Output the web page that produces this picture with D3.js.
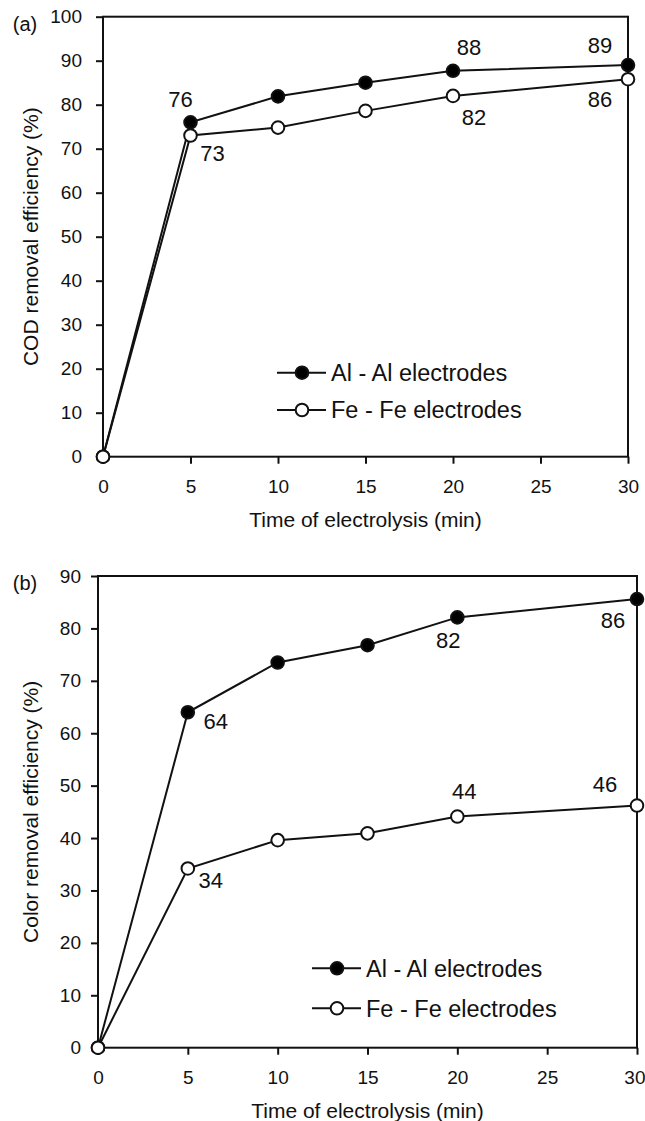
<!DOCTYPE html>
<html>
<head>
<meta charset="utf-8">
<script src="https://cdn.jsdelivr.net/npm/d3@7"></script>
<style>
  body { margin: 0; background: #fff; }
  svg { display: block; font-family: "Liberation Sans", Arial, sans-serif; }
</style>
</head>
<body>
<div id="chart"></div>
<script>
// data
const times = [0, 5, 10, 15, 20, 30];
const xTicks = [0, 5, 10, 15, 20, 25, 30];

const codAl = [0, 76.0, 81.9, 85.0, 87.7, 89.0];
const codFe = [0, 73.0, 74.8, 78.6, 82.0, 85.8];
const codTicks = [0, 10, 20, 30, 40, 50, 60, 70, 80, 90, 100];

const colorAl = [0, 64.0, 73.5, 76.8, 82.1, 85.6];
const colorFe = [0, 34.2, 39.6, 40.9, 44.1, 46.2];
const colorTicks = [0, 10, 20, 30, 40, 50, 60, 70, 80, 90];

const legendNames = ["Al - Al electrodes", "Fe - Fe electrodes"];

// which points carry a value label: [series, point index]
const codLabelled = [[0, 1], [1, 1], [0, 4], [1, 4], [0, 5], [1, 5]];
const colorLabelled = [[0, 1], [0, 4], [0, 5], [1, 1], [1, 4], [1, 5]];

// label placement, kept apart from the data
const codLabelOffsets = [[-10, -23], [22, 18], [16, -24], [21, 21], [-28, -20], [-28, 20]];
const colorLabelOffsets = [[28, 9], [-9, 23], [-24, 21], [23, 12], [7, -25], [-32, -21]];

const W = 645, H = 1121;
const fmt = d3.format(".0f");

const svg = d3.select("#chart").append("svg")
  .attr("width", W)
  .attr("height", H)
  .attr("viewBox", [0, 0, W, H]);

function drawPanel(p) {
  const x = d3.scaleLinear().domain([0, 30]).range([p.left, p.right]);
  const y = d3.scaleLinear().domain([0, p.yMax]).range([p.bottom, p.top]);
  const g = svg.append("g");

  // x axis
  const gx = g.append("g")
    .attr("transform", `translate(0,${p.bottom})`)
    .call(d3.axisBottom(x).tickValues(xTicks).tickSize(7).tickPadding(16).tickSizeOuter(0));
  // y axis
  const gy = g.append("g")
    .attr("transform", `translate(${p.left},0)`)
    .call(d3.axisLeft(y).tickValues(p.yTicks).tickSize(7).tickPadding(p.yPad).tickSizeOuter(0));

  [gx, gy].forEach(a => {
    a.select(".domain").remove();
    a.selectAll(".tick line").attr("stroke", "#111").attr("stroke-width", 2);
    a.selectAll(".tick text")
      .attr("fill", "#111")
      .attr("font-size", 19)
      .attr("font-family", "Liberation Sans, Arial, sans-serif");
  });

  // keep the last x label inside the page, as in the figure
  gx.selectAll(".tick text")
    .filter(d => d === 30 && x(30) + 11 > W)
    .attr("text-anchor", "end")
    .attr("x", W - x(30));

  // frame
  g.append("rect")
    .attr("x", p.left).attr("y", p.top)
    .attr("width", p.right - p.left).attr("height", p.bottom - p.top)
    .attr("fill", "none").attr("stroke", "#111").attr("stroke-width", 2);

  // titles
  g.append("text")
    .attr("x", (p.left + p.right) / 2)
    .attr("y", p.bottom + 63)
    .attr("dy", "0.35em")
    .attr("text-anchor", "middle")
    .attr("font-size", 21)
    .attr("fill", "#111")
    .text("Time of electrolysis (min)");

  g.append("text")
    .attr("transform", `translate(31,${(p.top + p.bottom) / 2}) rotate(-90)`)
    .attr("dy", "0.35em")
    .attr("text-anchor", "middle")
    .attr("font-size", 21)
    .attr("fill", "#111")
    .text(p.yTitle);

  g.append("text")
    .attr("x", 25)
    .attr("y", p.top + 7)
    .attr("dy", "0.35em")
    .attr("text-anchor", "middle")
    .attr("font-size", 20)
    .attr("fill", "#111")
    .text(p.tag);

  const line = d3.line()
    .x((d, i) => x(times[i]))
    .y(d => y(d));

  const series = [
    { values: p.al, fill: "#000" },
    { values: p.fe, fill: "#fff" }
  ];

  series.forEach(s => {
    g.append("path")
      .datum(s.values)
      .attr("fill", "none")
      .attr("stroke", "#111")
      .attr("stroke-width", 2)
      .attr("d", line);
  });

  series.forEach(s => {
    g.selectAll(null)
      .data(s.values)
      .enter()
      .append("circle")
      .attr("cx", (d, i) => x(times[i]))
      .attr("cy", d => y(d))
      .attr("r", 6.3)
      .attr("fill", s.fill)
      .attr("stroke", "#111")
      .attr("stroke-width", 2);
  });

  // value labels
  p.labelled.forEach(([si, pi], k) => {
    const v = series[si].values[pi];
    const [dx, dy] = p.offsets[k];
    g.append("text")
      .attr("x", x(times[pi]) + dx)
      .attr("y", y(v) + dy)
      .attr("dy", "0.35em")
      .attr("text-anchor", "middle")
      .attr("font-size", 22)
      .attr("fill", "#111")
      .text(fmt(v));
  });

  // legend
  legendNames.forEach((name, i) => {
    const ly = p.legY + i * p.legGap;
    g.append("line")
      .attr("x1", p.legX).attr("x2", p.legX + 49)
      .attr("y1", ly).attr("y2", ly)
      .attr("stroke", "#111").attr("stroke-width", 2);
    g.append("circle")
      .attr("cx", p.legX + 25).attr("cy", ly).attr("r", 6.3)
      .attr("fill", series[i].fill)
      .attr("stroke", "#111").attr("stroke-width", 2);
    g.append("text")
      .attr("x", p.legX + 54)
      .attr("y", ly)
      .attr("dy", "0.35em")
      .attr("font-size", 23.5)
      .attr("fill", "#111")
      .text(name);
  });
}

drawPanel({
  tag: "(a)",
  left: 103, right: 628, top: 16.7, bottom: 456.7,
  yMax: 100, yTicks: codTicks, yPad: 14,
  yTitle: "COD removal efficiency (%)",
  al: codAl, fe: codFe,
  labelled: codLabelled, offsets: codLabelOffsets,
  legX: 277, legY: 372.7, legGap: 37.3
});

drawPanel({
  tag: "(b)",
  left: 98, right: 637, top: 576, bottom: 1047.7,
  yMax: 90, yTicks: colorTicks, yPad: 10,
  yTitle: "Color removal efficiency (%)",
  al: colorAl, fe: colorFe,
  labelled: colorLabelled, offsets: colorLabelOffsets,
  legX: 312, legY: 968.3, legGap: 40
});
</script>
</body>
</html>
